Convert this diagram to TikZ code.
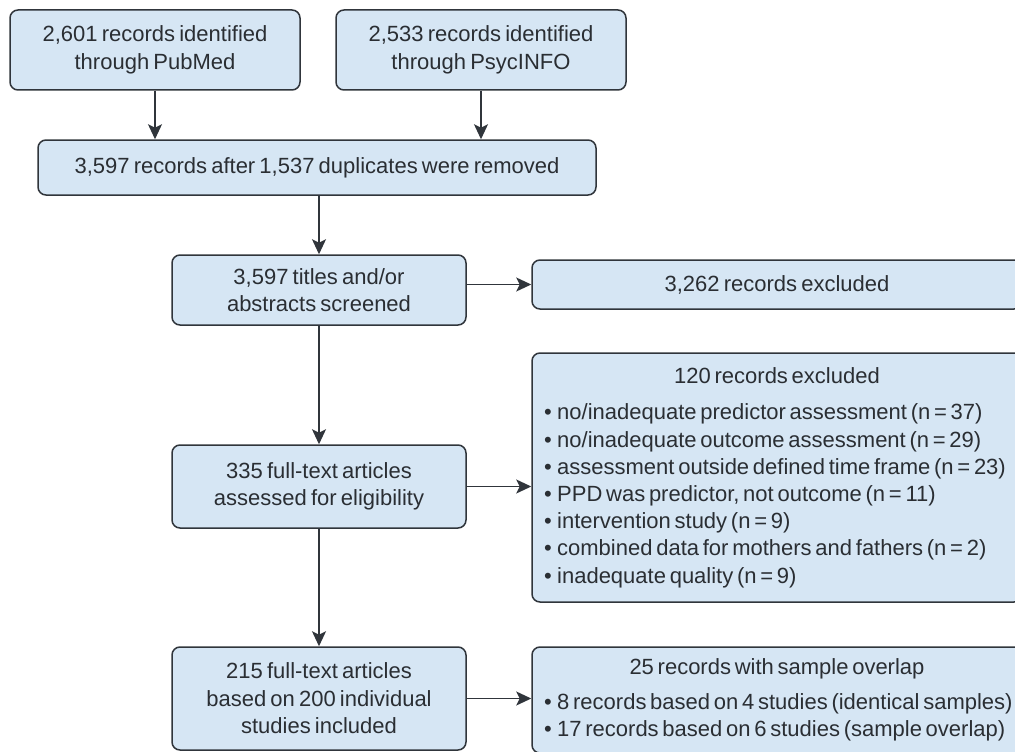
\documentclass[tikz,border=0pt]{standalone}
\usepackage{fontspec}
\setmainfont{Liberation Sans}
\usetikzlibrary{arrows.meta}
\definecolor{boxfill}{HTML}{D6E6F4}
\definecolor{boxline}{HTML}{30353B}
\definecolor{txt}{HTML}{2A2E33}
\newcommand{\boxfont}{\fontsize{22}{27.5}\selectfont\spaceskip=0.19em plus 0.05em minus 0.03em\relax}
\newcommand{\listfont}{\fontsize{22}{27.2}\selectfont\spaceskip=0.17em plus 0.05em minus 0.03em\relax}
\newcommand{\itm}[1]{\mbox{\listfont •\hspace{5.5pt}#1}}
\newcommand{\ttl}[1]{\hfill\mbox{\listfont #1}\hfill\null}
\begin{document}
\begin{tikzpicture}[x=1pt,y=-1pt,
  box/.style={draw=boxline, fill=boxfill, line width=1.5pt, rounded corners=8pt,
    align=center, inner sep=0pt, text=txt, font=\boxfont},
  listbox/.style={box, align=left, text width=466pt, font=\listfont},
  arr/.style={draw=boxline, line width=1.5pt, -{Stealth[length=15pt,width=14pt,inset=3.5pt]}}]
\useasboundingbox (0,0) rectangle (1015,752);
\clip (0,0) rectangle (1015,752);
\node[box, minimum width=290pt, minimum height=80pt] (A) at (155,50) {2,601 records identified\\through PubMed};
\node[box, minimum width=290pt, minimum height=80pt] (B) at (481,50) {2,533 records identified\\through PsycINFO};
\node[box, minimum width=558pt, minimum height=55pt] (C) at (317,167.5) {3,597 records after 1,537 duplicates were removed};
\node[box, minimum width=294pt, minimum height=70pt] (D) at (319,290) {3,597 titles and/or\\abstracts screened};
\node[box, minimum width=490pt, minimum height=49pt] (E) at (777,284.5) {3,262 records excluded};
\node[listbox, minimum width=490pt, minimum height=249pt] (F) at (777,477.5) {%
\ttl{120 records excluded}\\[9.5pt]
\itm{no/inadequate predictor assessment (n = 37)}\\
\itm{no/inadequate outcome assessment (n = 29)}\\
\itm{assessment outside defined time frame (n = 23)}\\
\itm{PPD was predictor, not outcome (n = 11)}\\
\itm{intervention study (n = 9)}\\
\itm{combined data for mothers and fathers (n = 2)}\\
\itm{inadequate quality (n = 9)}};
\node[box, minimum width=294pt, minimum height=83pt] (G) at (319,486.5) {335 full-text articles\\assessed for eligibility};
\node[box, minimum width=294pt, minimum height=103pt] (H) at (319,698.5) {215 full-text articles\\based on 200 individual\\studies included};
\node[listbox, minimum width=490pt, minimum height=106pt] (I) at (777,700) {%
\ttl{25 records with sample overlap}\\[7pt]
\itm{8 records based on 4 studies (identical samples)}\\
\itm{17 records based on 6 studies (sample overlap)}};
\draw[arr] (A.south) -- (A.south |- C.north);
\draw[arr] (B.south) -- (B.south |- C.north);
\draw[arr] (C.south -| D.north) -- (D.north);
\draw[arr] (E.west -| D.east) -- (E.west);
\draw[arr] (D.south) -- (G.north);
\draw[arr] (G.east) -- (G.east -| F.west);
\draw[arr] (G.south) -- (H.north);
\draw[arr] (H.east) -- (H.east -| I.west);
\end{tikzpicture}
\end{document}
